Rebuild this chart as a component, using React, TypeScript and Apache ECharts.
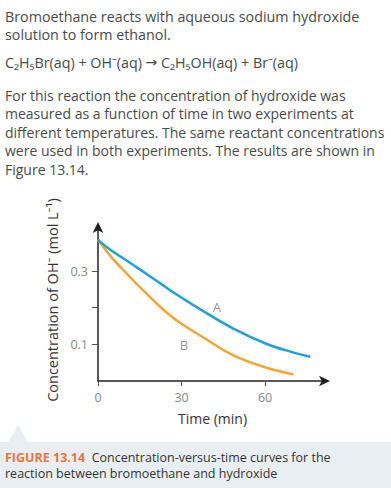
import React, { useEffect, useRef } from "react";
import * as echarts from "echarts";

const timeA = [0, 4.8, 10.8, 16.8, 22.8, 28.8, 36.6, 48.6, 60.6, 69.1, 76.2];
const concA = [0.385, 0.356, 0.326, 0.295, 0.264, 0.233, 0.196, 0.143, 0.101, 0.08, 0.066];
const timeB = [0, 4.8, 10.8, 16.8, 22.8, 28.8, 38.4, 48.6, 60.6, 70.2];
const concB = [0.385, 0.338, 0.289, 0.243, 0.199, 0.162, 0.116, 0.07, 0.036, 0.018];
const curveLabels = [
  { name: "A", t: 42.7, c: 0.201 },
  { name: "B", t: 30.9, c: 0.0975 },
];
const xTickValues = [0, 30, 60];
const yTickValues = [0.1, 0.2, 0.3];
const yLabelValues = [0.1, 0.3];

const introLines = [
  "Bromoethane reacts with aqueous sodium hydroxide",
  "solution to form ethanol.",
];
const eqLeft = "C\u2082H\u2085Br(aq) + OH\u207B(aq) ";
const eqArrow = "\u2192";
const eqRight = " C\u2082H\u2085OH(aq) + Br\u207B(aq)";
const paraLines = [
  "For this reaction the concentration of hydroxide was",
  "measured as a function of time in two experiments at",
  "different temperatures. The same reactant concentrations",
  "were used in both experiments. The results are shown in",
  "Figure 13.14.",
];
const captionLabel = "FIGURE 13.14";
const captionLines = [
  "Concentration-versus-time curves for the",
  "reaction between bromoethane and hydroxide",
];

const FONT = '"Open Sans", "Noto Sans", sans-serif';

export default function App() {
  const ref = useRef<HTMLDivElement>(null);
  useEffect(() => {
    if (!ref.current) return;
    const chart = echarts.init(ref.current, undefined, { renderer: "svg" });
    const textColor = "#4a4a4a";
    const graphics: any[] = [];
    const txt = (x: number, y: number, text: string, extra: any = {}) => ({
      type: "text",
      x,
      y,
      z: 5,
      style: {
        text,
        fill: textColor,
        fontSize: 14,
        fontFamily: FONT,
        align: "left",
        verticalAlign: "middle",
        ...extra,
      },
    });
    const introY = [16, 34.5];
    introLines.forEach((t, i) => graphics.push(txt(5, introY[i], t, { fontSize: 14.3 })));
    graphics.push(
      txt(5, 62, "{t|" + eqLeft + "}{a|" + eqArrow + "}{t|" + eqRight + "}", {
        rich: {
          t: { fill: textColor, fontSize: 14.3, fontFamily: FONT },
          a: { fill: textColor, fontSize: 14, fontFamily: "DejaVu Sans" },
        },
      })
    );
    const paraY = [95, 113.5, 132, 150.5, 169];
    paraLines.forEach((t, i) => graphics.push(txt(5, paraY[i], t)));
    // caption box
    graphics.push({
      type: "rect",
      shape: { x: 0, y: 442, width: 391, height: 46 },
      style: { fill: "#e9eef2" },
      z: 0,
    });
    graphics.push({
      type: "polygon",
      shape: { points: [[8, 442], [18, 425], [28, 442]] },
      style: { fill: "#e9eef2" },
      z: 0,
    });
    graphics.push(
      txt(5, 457.5, "{b|" + captionLabel + "}{n|  " + captionLines[0] + "}", {
        rich: {
          b: { fill: "#e8763a", fontWeight: "bold", fontSize: 12.5, fontFamily: FONT, lineHeight: 13 },
          n: { fill: "#333", fontSize: 12.5, fontFamily: FONT, lineHeight: 13 },
        },
      })
    );
    graphics.push(
      txt(5, 473, captionLines[1], { fill: "#333", fontSize: 12.5, lineHeight: 13 })
    );

    chart.setOption({
      animation: false,
      backgroundColor: "#fff",
      textStyle: { fontFamily: FONT },
      grid: { left: 98, right: 66, top: 227, bottom: 107 },
      xAxis: {
        type: "value",
        min: 0,
        max: 81.5,
        name: "Time (min)",
        nameLocation: "middle",
        nameGap: 30,
        nameTextStyle: { color: "#333", fontSize: 14, padding: [0, 0, 0, 2] },
        splitLine: { show: false },
        axisLine: {
          lineStyle: { color: "#222", width: 1.5 },
          symbol: ["none", "arrow"],
          symbolSize: [8, 11],
          symbolOffset: [0, 5],
        },
        axisTick: { customValues: xTickValues, length: 5, lineStyle: { color: "#555" } },
        axisLabel: {
          customValues: xTickValues,
          color: "#888",
          fontSize: 12.5,
          margin: 10,
        },
      },
      yAxis: {
        type: "value",
        min: 0,
        max: 0.42,
        name: "Concentration of OH\u207B (mol L\u207B\u00B9)",
        nameLocation: "middle",
        nameGap: 33,
        nameTextStyle: { color: "#333", fontSize: 14.5, padding: [0, 0, 0, 8] },
        splitLine: { show: false },
        axisLine: {
          lineStyle: { color: "#222", width: 1.5 },
          symbol: ["none", "arrow"],
          symbolSize: [8, 11],
          symbolOffset: [0, 5],
        },
        axisTick: { customValues: yTickValues, length: 6, lineStyle: { color: "#555" } },
        axisLabel: {
          customValues: yLabelValues,
          color: "#888",
          fontSize: 12.5,
          margin: 10,
          formatter: (v: number) => v.toFixed(1),
        },
      },
      series: [
        {
          type: "line",
          name: "A",
          data: timeA.map((t, i) => [t, concA[i]]),
          smooth: 0.4,
          showSymbol: false,
          lineStyle: { color: "#1fa0d8", width: 2.5 },
          z: 3,
        },
        {
          type: "line",
          name: "B",
          data: timeB.map((t, i) => [t, concB[i]]),
          smooth: 0.4,
          showSymbol: false,
          lineStyle: { color: "#f0a733", width: 2.5 },
          z: 2,
        },
        {
          type: "scatter",
          data: curveLabels.map((l) => ({ name: l.name, value: [l.t, l.c] })),
          symbolSize: 0,
          label: {
            show: true,
            position: "inside",
            formatter: (p: any) => p.name,
            color: "#777",
            fontSize: 13,
          },
        },
      ],
      graphic: graphics,
    });
    return () => chart.dispose();
  }, []);
  return (
    <div
      ref={ref}
      style={{ position: "fixed", left: 0, top: 0, width: 391, height: 488 }}
    />
  );
}
